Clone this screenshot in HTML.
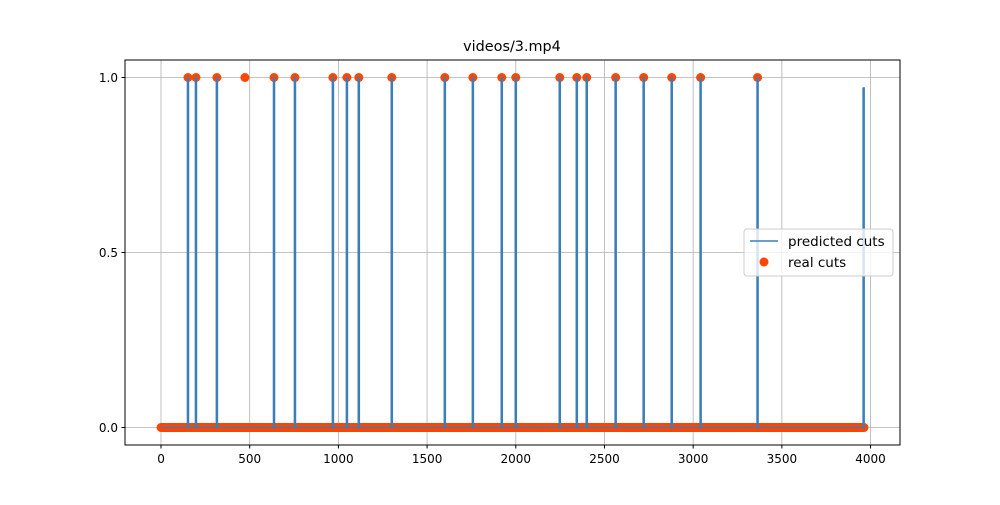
<!DOCTYPE html>
<html><head><meta charset="utf-8"><style>
body{margin:0;background:#fff;}
svg text{font-family:"DejaVu Sans","Liberation Sans",sans-serif;}
</style></head><body>
<svg id="chart" width="1000" height="500" xmlns="http://www.w3.org/2000/svg">
<rect width="1000" height="500" fill="#fff"/>
<text x="512" y="51" text-anchor="middle" font-size="14.4">videos/3.mp4</text>
<g id="grid"></g>
<g id="marks"></g>
<rect x="125" y="60" width="775" height="385" fill="none" stroke="#000" stroke-width="1"/>
<g id="ticks"></g>
<g>
<rect x="744" y="229" width="149" height="47" rx="3" fill="#fff" fill-opacity="0.8" stroke="#ccc"/>
<line x1="750" y1="241" x2="778" y2="241" stroke="#3c7fb6" stroke-width="1.5"/>
<text x="788" y="246" font-size="13.5">predicted cuts</text>
<circle cx="764" cy="262" r="4.5" fill="#ff4500"/>
<text x="788" y="267" font-size="13.5">real cuts</text>
</g>
</svg>
<script>
const totalFrames = 3963;
const realCuts = [152,197,315,473,637,755,969,1048,1115,1301,1600,1758,1921,2000,2248,2344,2400,2563,2721,2879,3042,3363];
const predictedCuts = [152,197,315,637,755,969,1048,1115,1301,1600,1758,1921,2000,2248,2344,2400,2563,2721,2879,3042,3363,3961];
const predictedValues = [1,1,1,1,1,1,1,1,1,1,1,1,1,1,1,1,1,1,1,1,1,0.97];
const xTicks = [0,500,1000,1500,2000,2500,3000,3500,4000];
const yTicks = [0,0.5,1];
const yTickLabels = ["0.0","0.5","1.0"];

const NS="http://www.w3.org/2000/svg";
const X0=125,X1=900,Y0=60,Y1=445;
const xmin=-203,xmax=4166,ymin=-0.05,ymax=1.05;
const xs=v=>X0+(v-xmin)/(xmax-xmin)*(X1-X0);
const ys=v=>Y1-(v-ymin)/(ymax-ymin)*(Y1-Y0);
function mk(t,a,p){const e=document.createElementNS(NS,t);for(const k in a)e.setAttribute(k,a[k]);p.appendChild(e);return e;}
const grid=document.getElementById('grid'),ticks=document.getElementById('ticks'),marks=document.getElementById('marks');
xTicks.forEach(v=>{const x=xs(v);
 const g=mk('line',{x1:x,x2:x,y1:Y0,y2:Y1,stroke:'#b0b0b0','stroke-width':0.8},grid);
 
 
 const t=mk('line',{x1:x,x2:x,y1:Y1,y2:Y1+3.5,stroke:'#000'},ticks);
 
 
 const l=mk('text',{x:x,y:Y1+18,'text-anchor':'middle','font-size':12},ticks);l.textContent=v;
 
 
});
yTicks.forEach((v,i)=>{const y=ys(v);
 const g=mk('line',{x1:X0,x2:X1,y1:y,y2:y,stroke:'#b0b0b0','stroke-width':0.8},grid);
 
 
 const t=mk('line',{x1:X0-3.5,x2:X0,y1:y,y2:y,stroke:'#000'},ticks);
 
 
 const l=mk('text',{x:X0-7,y:y+4.5,'text-anchor':'end','font-size':12},ticks);l.textContent=yTickLabels[i];
 
 
});
const sc=mk('g',{fill:'#ff4500'},marks);


for(let f=0;f<=totalFrames;f+=4){if(realCuts.includes(f))continue;const c=mk('circle',{cx:xs(f),cy:ys(0),r:4.5},sc);
 
 }
mk('circle',{cx:xs(totalFrames),cy:ys(0),r:4.5},sc);
realCuts.forEach(f=>{const c=mk('circle',{cx:xs(f),cy:ys(1),r:4.5},sc);
 
 });
let d='M'+xs(0)+','+ys(0);
predictedCuts.forEach((f,i)=>{d+=' L'+xs(f-3)+','+ys(0)+' L'+xs(f-3)+','+ys(predictedValues[i])+' L'+xs(f+3)+','+ys(predictedValues[i])+' L'+xs(f+3)+','+ys(0);});
d+=' L'+xs(totalFrames)+','+ys(0);
const p=mk('path',{d:d,fill:'none',stroke:'#3c7fb6','stroke-width':1.5,'stroke-linejoin':'miter'},marks);


</script>
</body></html>
